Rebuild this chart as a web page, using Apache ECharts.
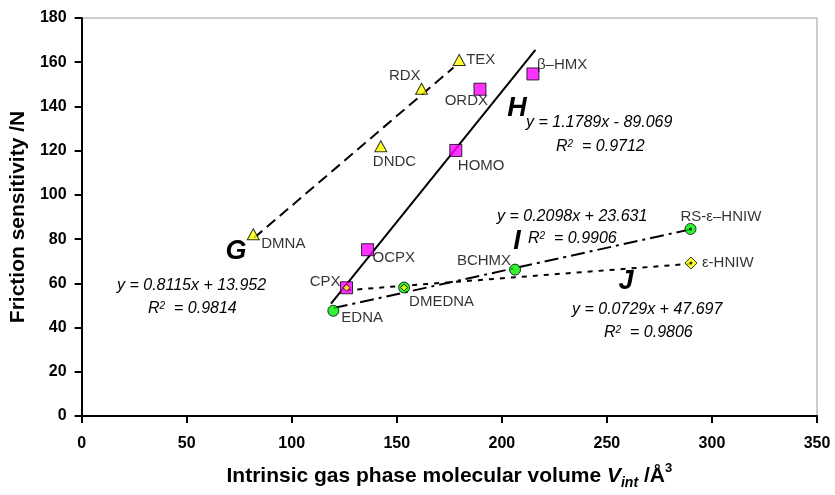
<!DOCTYPE html>
<html>
<head>
<meta charset="utf-8">
<script src="https://cdn.jsdelivr.net/npm/echarts@6/dist/echarts.min.js"></script>
<style>
html,body{margin:0;padding:0;background:#fff;}
#chart{width:835px;height:495px;}
</style>
</head>
<body>
<div id="chart"></div>
<script>
// ---- Data ----
const gNames = ['DMNA', 'DNDC', 'RDX', 'TEX'];
const gX = [81.7, 142.4, 161.8, 179.7];
const gY = [82.2, 122.0, 148.0, 161.0];

const hNames = ['CPX', 'OCPX', 'HOMO', 'ORDX', 'β–HMX'];
const hX = [126.1, 136.1, 178.1, 189.6, 214.8];
const hY = [58.0, 75.2, 120.1, 147.8, 154.7];

const iNames = ['EDNA', 'DMEDNA', 'BCHMX', 'RS-ε–HNIW'];
const iX = [119.8, 153.5, 206.3, 289.8];
const iY = [47.6, 58.1, 66.2, 84.6];

const jNames = ['CPX', 'DMEDNA', 'ε-HNIW'];
const jX = [126.1, 153.5, 290.0];
const jY = [58.0, 58.1, 69.2];

// regression fits (slope, intercept) and drawn x-range
const fitNames = ['G', 'H', 'I', 'J'];
const fitSlope = [0.8115, 1.1789, 0.2098, 0.0729];
const fitIntercept = [13.952, -89.069, 23.631, 47.697];
const fitR2 = ['0.9814', '0.9712', '0.9906', '0.9806'];
const fitXStart = [82, 118.7, 120, 126];
const fitXEnd = [177, 216, 290, 290];

const xTicks = [0, 50, 100, 150, 200, 250, 300, 350];
const yTicks = [0, 20, 40, 60, 80, 100, 120, 140, 160, 180];

// ---- Styling (label offsets in px relative to marker centre) ----
const FONT = 'Liberation Sans';
const labelPos = {
  'DMNA': [8, 10, 'left'],
  'DNDC': [-8, 16, 'left'],
  'RDX': [-1, -13, 'right'],
  'TEX': [7, 0, 'left'],
  'CPX': [-6, -6, 'right'],
  'OCPX': [5, 8, 'left'],
  'HOMO': [2, 15, 'left'],
  'ORDX': [8, 12, 'right'],
  'β–HMX': [4, -9, 'left'],
  'EDNA': [8, 7, 'left'],
  'DMEDNA': [5, 14, 'left'],
  'BCHMX': [-4, -9, 'right'],
  'RS-ε–HNIW': [-10, -12, 'left'],
  'ε-HNIW': [11, 0, 'left']
};

function pts(names, xs, ys, withLabels, sizes) {
  return xs.map((x, k) => {
    const item = { name: names[k], value: [x, ys[k]] };
    if (sizes) item.symbolSize = sizes[k];
    const lp = labelPos[names[k]];
    if (withLabels && lp) {
      item.label = {
        show: true, position: ['50%', '50%'], align: lp[2], verticalAlign: 'middle',
        offset: [lp[0], lp[1]], formatter: '{t|{b}}',
        fontFamily: FONT, fontSize: 15, color: '#000',
        textBorderWidth: 0, textBorderColor: 'transparent', textShadowBlur: 0,
        rich: { t: { fontFamily: FONT, fontSize: 15, color: '#000', textBorderWidth: 0 } }
      };
    } else {
      item.label = { show: false };
    }
    return item;
  });
}

const dashTypes = [[11, 6], 'solid', [14, 5, 3, 5], [5, 6]];
const fitSeries = fitNames.map((n, k) => ({
  type: 'line', name: 'fit' + n, z: 1, silent: true,
  symbol: 'none',
  lineStyle: { color: '#000', width: 2, type: dashTypes[k] },
  data: [
    [fitXStart[k], fitSlope[k] * fitXStart[k] + fitIntercept[k]],
    [fitXEnd[k], fitSlope[k] * fitXEnd[k] + fitIntercept[k]]
  ]
}));

const border = { borderColor: '#000', borderWidth: 1 };

const series = fitSeries.concat([
  {
    type: 'scatter', name: 'G', z: 3, symbol: 'triangle', symbolSize: [12, 11],
    itemStyle: Object.assign({ color: '#FFFF00' }, border),
    data: pts(gNames, gX, gY, true)
  },
  {
    type: 'scatter', name: 'H', z: 3, symbol: 'rect', symbolSize: 12,
    itemStyle: Object.assign({ color: '#FF00FF' }, border),
    data: pts(hNames, hX, hY, true)
  },
  {
    type: 'scatter', name: 'I', z: 3, symbol: 'circle', symbolSize: 11,
    itemStyle: Object.assign({ color: '#00EE00' }, border),
    data: pts(iNames, iX, iY, true)
  },
  {
    type: 'scatter', name: 'J', z: 4, symbol: 'diamond',
    itemStyle: Object.assign({ color: '#FFFF00' }, border),
    data: pts(jNames, jX, jY, true, [7, 7, 12]).map((d, k) => {
      if (k < 2) d.label = { show: false };
      return d;
    })
  },
  {
    type: 'scatter', name: 'dot', z: 5, symbol: 'circle', symbolSize: 3,
    itemStyle: { color: '#000' }, silent: true,
    data: [[iX[3], iY[3]], [jX[2], jY[2]]]
  }
]);

// ---- annotations ----
function eqText(k) {
  const b = fitIntercept[k];
  return 'y = ' + fitSlope[k] + 'x ' + (b < 0 ? '- ' : '+ ') + Math.abs(b).toFixed(3);
}
const eqPos = [[117, 286, 148, 309], [526, 123, 556, 147], [497, 217, 528, 239], [572, 310, 604, 333]];
const letterPos = [[236, 252], [517, 109], [517, 242], [626, 282]];

const graphics = [];
fitNames.forEach((n, k) => {
  const p = eqPos[k];
  graphics.push({
    type: 'text', x: p[0], y: p[1], z: 10,
    style: { text: eqText(k), font: 'italic 16px ' + FONT, fill: '#000', textAlign: 'left', textVerticalAlign: 'middle' }
  });
  graphics.push({
    type: 'text', x: p[2], y: p[3], z: 10,
    style: {
      text: 'R{s|2}  = ' + fitR2[k], font: 'italic 16px ' + FONT, fill: '#000', textAlign: 'left', textVerticalAlign: 'middle',
      rich: { s: { fontSize: 10, fontStyle: 'italic', fontFamily: FONT, verticalAlign: 'top', lineHeight: 10 } }
    }
  });
  const lp = letterPos[k];
  graphics.push({
    type: 'text', x: lp[0], y: lp[1], z: 10,
    style: { text: n, font: 'italic bold 27px ' + FONT, fill: '#000', textAlign: 'center', textVerticalAlign: 'middle' }
  });
});

const chart = echarts.init(document.getElementById('chart'), null, { renderer: 'canvas' });
chart.setOption({
  animation: false,
  backgroundColor: '#fff',
  grid: { left: 80, right: 18, top: 18, bottom: 77, show: true, borderColor: '#999', borderWidth: 1 },
  xAxis: {
    type: 'value', min: xTicks[0], max: xTicks[xTicks.length - 1], interval: xTicks[1] - xTicks[0],
    axisLine: { show: true, onZero: false, lineStyle: { color: '#000', width: 2 } },
    axisTick: { show: true, length: 7, lineStyle: { color: '#000', width: 2 } },
    axisLabel: { fontFamily: FONT, fontWeight: 'bold', fontSize: 16, color: '#000', margin: 20 },
    splitLine: { show: false },
    name: '{a|Intrinsic gas phase molecular volume }{v|V}{s|int}{a| /Å}{p|3}',
    nameLocation: 'middle', nameGap: 46,
    nameTextStyle: {
      fontFamily: FONT, fontWeight: 'bold', fontSize: 21, color: '#000',
      rich: {
        a: { fontFamily: FONT, fontWeight: 'bold', fontSize: 21, color: '#000', lineHeight: 28 },
        v: { fontFamily: FONT, fontWeight: 'bold', fontStyle: 'italic', fontSize: 21, color: '#000', lineHeight: 28 },
        s: { fontFamily: FONT, fontWeight: 'bold', fontStyle: 'italic', fontSize: 14, color: '#000', lineHeight: 14, verticalAlign: 'bottom' },
        p: { fontFamily: FONT, fontWeight: 'bold', fontSize: 13, color: '#000', lineHeight: 13, verticalAlign: 'top' }
      }
    }
  },
  yAxis: {
    type: 'value', min: yTicks[0], max: yTicks[yTicks.length - 1], interval: yTicks[1] - yTicks[0],
    axisLine: { show: true, onZero: false, lineStyle: { color: '#000', width: 2 } },
    axisTick: { show: true, length: 7, lineStyle: { color: '#000', width: 2 } },
    axisLabel: { fontFamily: FONT, fontWeight: 'bold', fontSize: 16, color: '#000', margin: 15 },
    splitLine: { show: false },
    name: 'Friction sensitivity /N',
    nameLocation: 'middle', nameGap: 46, nameRotate: 90,
    nameTextStyle: { fontFamily: FONT, fontWeight: 'bold', fontSize: 21, color: '#000' }
  },
  series: series,
  graphic: graphics
});
</script>
</body>
</html>
